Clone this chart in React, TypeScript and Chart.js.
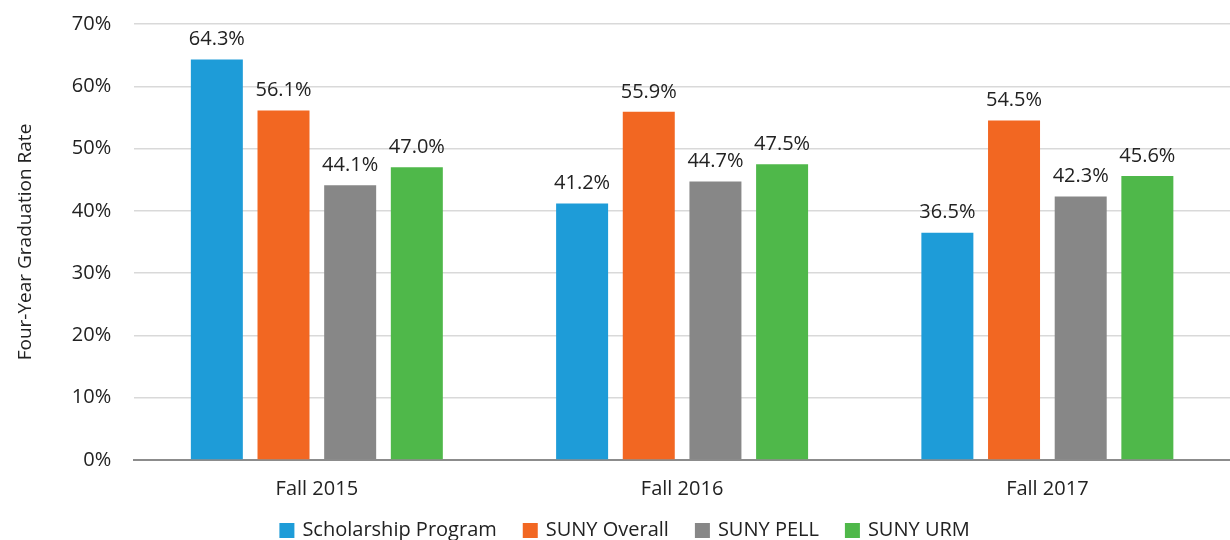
import React, { useEffect, useRef } from "react";
import { Chart, registerables } from "chart.js";

Chart.register(...registerables);

const categories = ["Fall 2015", "Fall 2016", "Fall 2017"];
const seriesNames = ["Scholarship Program", "SUNY Overall", "SUNY PELL", "SUNY URM"];
const scholarship = [64.3, 41.2, 36.5];
const sunyOverall = [56.1, 55.9, 54.5];
const sunyPell = [44.1, 44.7, 42.3];
const sunyUrm = [47.0, 47.5, 45.6];
const colors = ["#1E9CD8", "#F26722", "#878787", "#4FB84A"];

const FONT = "'Open Sans', sans-serif";
const FS = 20;

const valueLabels = {
  id: "valueLabels",
  afterDatasetsDraw(chart: any) {
    const ctx = chart.ctx;
    ctx.save();
    ctx.font = `${FS}px ${FONT}`;
    ctx.fillStyle = "#222";
    ctx.textAlign = "center";
    ctx.textBaseline = "middle";
    chart.data.datasets.forEach((ds: any, i: number) => {
      const meta = chart.getDatasetMeta(i);
      meta.data.forEach((bar: any, j: number) => {
        ctx.fillText(ds.data[j].toFixed(1) + "%", bar.x, bar.y - 20);
      });
    });
    ctx.restore();
  },
};

const bottomLegend = {
  id: "bottomLegend",
  afterDraw(chart: any) {
    const ctx = chart.ctx;
    ctx.save();
    ctx.font = `${FS}px ${FONT}`;
    ctx.textBaseline = "middle";
    ctx.textAlign = "left";
    const box = 15;
    const gapText = 8;
    const gapItem = 26;
    const items = chart.data.datasets.map((ds: any) => ({
      label: ds.label,
      color: ds.backgroundColor,
      w: box + gapText + ctx.measureText(ds.label).width,
    }));
    const total = items.reduce((s: number, it: any) => s + it.w, 0) + gapItem * (items.length - 1);
    const cx = (chart.width + chart.chartArea.left) / 2 - 57.5;
    let x = cx - total / 2;
    const y = chart.height - 9.5;
    items.forEach((it: any) => {
      ctx.fillStyle = it.color;
      ctx.fillRect(x, y - box / 2, box, box);
      ctx.fillStyle = "#222";
      ctx.fillText(it.label, x + box + gapText, y);
      x += it.w + gapItem;
    });
    ctx.restore();
  },
};

export default function App() {
  const ref = useRef<HTMLCanvasElement>(null);
  useEffect(() => {
    if (!ref.current) return;
    const data = [scholarship, sunyOverall, sunyPell, sunyUrm];
    const chart = new Chart(ref.current, {
      type: "bar",
      data: {
        labels: categories,
        datasets: seriesNames.map((name, i) => ({
          label: name,
          data: data[i],
          backgroundColor: colors[i],
          categoryPercentage: 0.73,
          barPercentage: 0.78,
        })),
      },
      options: {
        responsive: false,
        animation: false,
        layout: { padding: { top: 24, right: 0, left: 0, bottom: 22 } },
        plugins: {
          legend: { display: false },
          tooltip: { enabled: false },
        },
        scales: {
          x: {
            grid: { display: false, drawTicks: false },
            border: { color: "#8c8c8c", width: 2 },
            ticks: { font: { size: FS, family: FONT }, color: "#222", padding: 17 },
          },
          y: {
            min: 0,
            max: 70,
            grid: { color: "#d9d9d9", lineWidth: 1.5, drawTicks: true, tickLength: 20, tickColor: "rgba(0,0,0,0)" },
            border: { display: false },
            ticks: {
              stepSize: 10,
              font: { size: FS, family: FONT },
              color: "#222",
              padding: 3,
              callback: (v: any) => v + "%",
            },
            title: {
              display: true,
              text: "Four-Year Graduation Rate",
              font: { size: 19, family: FONT },
              color: "#222",
              padding: { top: 14, bottom: 32 },
            },
          },
        },
      },
      plugins: [valueLabels, bottomLegend],
    });
    return () => chart.destroy();
  }, []);
  return (
    <div style={{ position: "fixed", left: 0, top: 0, width: 1230, height: 540, overflow: "hidden", background: "#fff" }}>
      <canvas ref={ref} width={1230} height={540} />
    </div>
  );
}
